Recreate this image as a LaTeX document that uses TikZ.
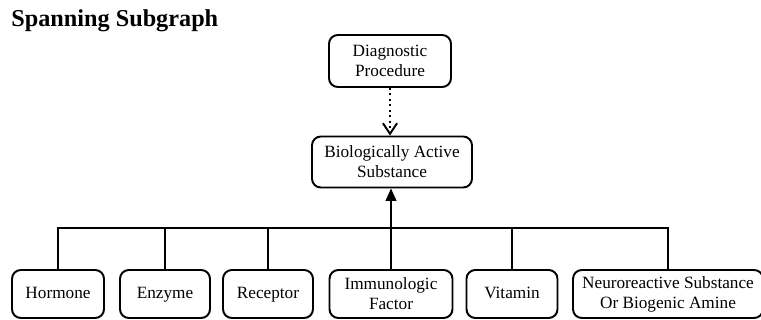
\documentclass[tikz,border=0pt]{standalone}
\usepackage{fontspec}
\setmainfont{Liberation Serif}
\usetikzlibrary{arrows.meta,positioning}

\begin{document}
\begin{tikzpicture}[x=0.02cm, y=-0.02cm,
    box/.style={draw, line width=1.1pt, rounded corners=5pt, align=center,
        inner sep=1pt, font=\fontsize{9.8}{11.5}\selectfont},
    link/.style={line width=1.1pt}]
    \useasboundingbox (0,0) rectangle (761,320);

    % Title
    \node[anchor=west, inner sep=0pt, font=\fontsize{13.8}{15}\selectfont\bfseries] (title) at (11,21) {Spanning Subgraph};

    % Top of the tree
    \node[box, minimum width=2.44cm, minimum height=1.04cm] (diag) at (390,61) {Diagnostic\\Procedure};
    \node[box, minimum width=3.2cm, minimum height=1.02cm] (bio) at (392,162) {Biologically Active\\Substance};

    % Kinds of substance (bottom row)
    \node[box, minimum width=1.84cm, minimum height=0.96cm] (hormone) at (58,294) {Hormone\strut};
    \node[box, minimum width=1.80cm, minimum height=0.96cm] (enzyme) at (165,294) {Enzyme\strut};
    \node[box, minimum width=1.80cm, minimum height=0.96cm] (receptor) at (268,294) {Receptor\strut};
    \node[box, minimum width=2.46cm, minimum height=0.96cm] (immuno) at (391,294) {Immunologic\\Factor};
    \node[box, minimum width=1.82cm, minimum height=0.96cm] (vitamin) at (512,294) {Vitamin\strut};
    \node[box, minimum width=3.80cm, minimum height=0.96cm] (neuro) at (668,294) {Neuroreactive Substance\\Or Biogenic Amine};

    % Dotted link between the two upper boxes
    \draw[link, dotted, -{Straight Barb[length=6pt,width=8pt]}] (diag) -- (diag.south |- bio.north);

    % Bus joining the bottom row
    \coordinate (busL) at (hormone.north |- 0,228);
    \coordinate (busR) at (neuro.north |- 0,228);
    \draw[link] (hormone.north) -- (busL) -- (busR) -- (neuro.north);
    \foreach \kid in {enzyme,receptor,vitamin}
        \draw[link] (\kid.north) -- (\kid.north |- busL);
    \draw[link, -{Triangle[length=7pt,width=6pt]}] (immuno.north) -- (immuno.north |- bio.south);
\end{tikzpicture}
\end{document}
